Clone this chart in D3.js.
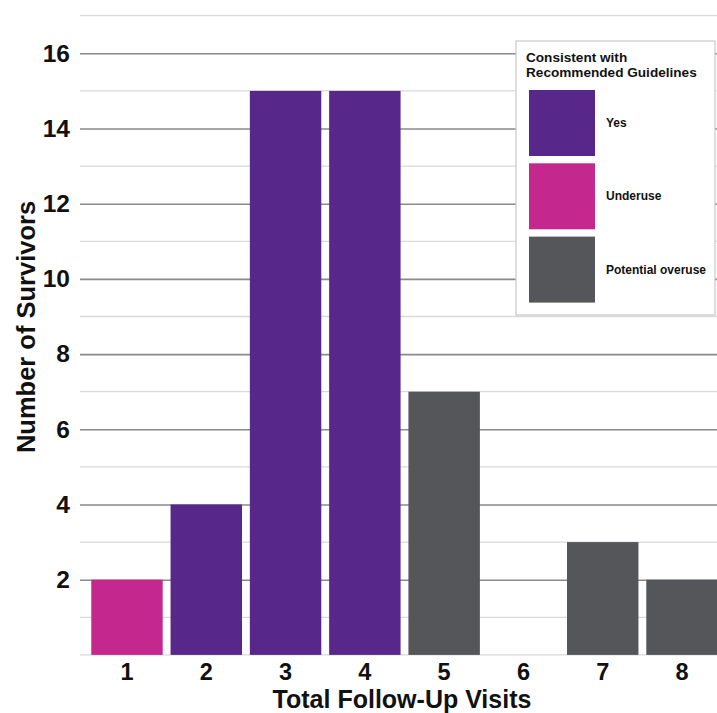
<!DOCTYPE html>
<html><head><meta charset="utf-8">
<script src="https://cdn.jsdelivr.net/npm/d3@7"></script>
<style>body{margin:0;background:#fff;}svg{display:block;font-family:"Liberation Sans",Arial,sans-serif;}</style>
</head><body><svg id="c" width="717" height="713"></svg>
<script>
const visits = ["1","2","3","4","5","6","7","8"];
const survivors = [2,4,15,15,7,0,3,2];
const status = ["Underuse","Yes","Yes","Yes","Potential overuse","Potential overuse","Potential overuse","Potential overuse"];
const legendCats = ["Yes","Underuse","Potential overuse"];
const legendColors = ["#57288a","#c4288f","#55565a"];
const yTicks = [2,4,6,8,10,12,14,16];
const legendTitle = ["Consistent with","Recommended Guidelines"];

const svg = d3.select("#c");
const x = d3.scaleBand().domain(visits).range([87.3, 721.7]).paddingInner(0.099).paddingOuter(0.05);
const y = d3.scaleLinear().domain([0,17]).range([654.9, 15.7]);
const color = d3.scaleOrdinal().domain(legendCats).range(legendColors);
const plotL = 80, plotR = 717;

// minor gridlines
const minor = d3.range(0,18).filter(v => v % 2 === 1 || v === 0);
svg.append("g").selectAll("line").data(minor).join("line")
  .attr("x1", plotL).attr("x2", plotR).attr("y1", d=>y(d)).attr("y2", d=>y(d))
  .attr("stroke","#d9d9d9").attr("stroke-width",1.3);
// major gridlines via axis
const yAxis = svg.append("g").attr("transform",`translate(${plotL},0)`)
  .call(d3.axisLeft(y).tickValues(yTicks).tickSize(-(plotR-plotL)).tickPadding(10));
yAxis.select(".domain").remove();
yAxis.selectAll(".tick line").attr("stroke","#8a8a8a").attr("stroke-width",1.6);
yAxis.selectAll(".tick text").attr("font-size",24.5).attr("font-weight","bold").attr("fill","#111")
  .attr("font-family","'Liberation Sans',Arial,sans-serif");

// bars
svg.append("g").selectAll("rect").data(visits.map((v,i)=>({v, n:survivors[i], s:status[i]})).filter(d=>d.n>0))
  .join("rect")
  .attr("x", d=>x(d.v)).attr("width", x.bandwidth())
  .attr("y", d=>y(d.n)).attr("height", d=>y(0)-y(d.n))
  .attr("fill", d=>color(d.s));

// x axis
const xAxis = svg.append("g").attr("transform",`translate(0,${y(0)})`)
  .call(d3.axisBottom(x).tickSize(0).tickPadding(8));
xAxis.select(".domain").remove();
xAxis.selectAll(".tick text").attr("font-size",23.5).attr("font-weight","bold").attr("fill","#111")
  .attr("font-family","'Liberation Sans',Arial,sans-serif");

// axis titles
svg.append("text").attr("x", 402).attr("y", 708).attr("text-anchor","middle")
  .attr("font-size",25).attr("font-weight","bold").attr("fill","#111").text("Total Follow-Up Visits");
svg.append("text").attr("transform","translate(35,327) rotate(-90)").attr("text-anchor","middle")
  .attr("font-size",25.5).attr("font-weight","bold").attr("fill","#111").text("Number of Survivors");

// legend
const lg = svg.append("g");
lg.append("rect").attr("x",516).attr("y",41).attr("width",199).attr("height",274)
  .attr("fill","#fff").attr("stroke","#c8c8c8").attr("stroke-width",1.2);
lg.selectAll("text.t").data(legendTitle).join("text").attr("class","t")
  .attr("x",526).attr("y",(d,i)=>62+i*15).attr("font-size",13.6).attr("font-weight","bold").attr("fill","#111").text(d=>d);
const items = lg.selectAll("g.it").data(legendCats).join("g").attr("class","it")
  .attr("transform",(d,i)=>`translate(529,${90+i*73.3})`);
items.append("rect").attr("width",66).attr("height",66).attr("fill",d=>color(d));
items.append("text").attr("x",77).attr("y",33).attr("dy","0.35em").attr("font-size",12)
  .attr("font-weight","bold").attr("fill","#111").text(d=>d);
</script></body></html>
